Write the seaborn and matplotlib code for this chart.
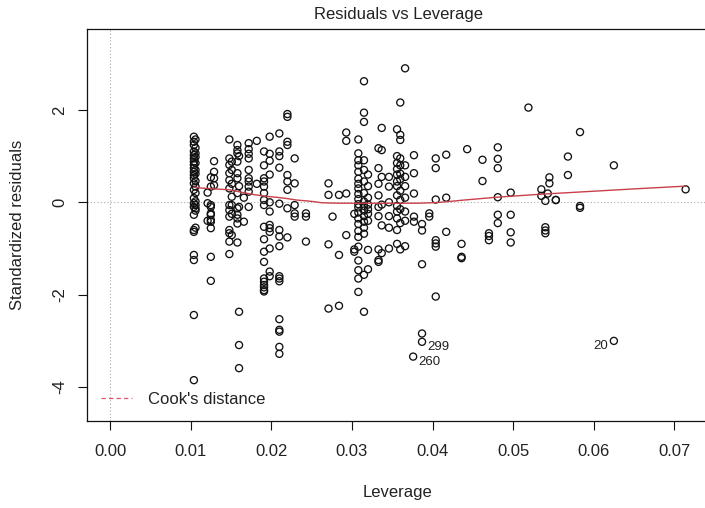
import matplotlib
matplotlib.use("Agg")
import matplotlib.pyplot as plt
from matplotlib.lines import Line2D
import pandas as pd
import seaborn as sns

# Standardized residuals, grouped by the (shared) leverage of the observations
r_0104 = [1.42, 1.31, 1.24, 1.10, 1.02, 0.95, 0.88, 0.81, 0.74, 0.66, 0.59, 0.52,
          0.41, 0.27, 0.09, -0.02, -0.10, -0.27, -0.60, -0.64, -1.14, -1.25, -2.44, -3.85]
r_0106 = [1.36, 1.18, 1.06, 0.98, 0.85, 0.70, 0.62, 0.46, 0.34, 0.20, 0.02, -0.06,
          -0.13, -0.18, -0.55]
r_0121 = [0.21, -0.02, -0.40]
r_0125 = [0.54, 0.34, -0.06, -0.10, -0.24, -0.27, -0.38, -0.42, -0.56, -1.18, -1.70]
r_0129 = [0.89, 0.66, 0.52, 0.37]
r_0148 = [1.36, 0.95, 0.81, 0.63, 0.48, 0.30, -0.06, -0.17, -0.31, -0.60, -0.67, -0.85, -1.12]
r_0151 = [0.88, 0.70, 0.40, 0.12, -0.06, -0.25, -0.71]
r_0158 = [1.24, 1.13, 1.06, 0.88, 0.63, 0.52, 0.20, -0.13, -0.27, -0.35, -0.46, -0.87]
r_0160 = [1.00, 0.35, -0.10, -2.37, -3.09, -3.59]
r_0166 = [0.10, -0.42]
r_0172 = [1.28, 1.15, 1.05, 0.95, 0.70, 0.52, 0.45, 0.34, 0.23, -0.10]
r_0182 = [1.33, 0.40]
r_0191 = [1.10, 0.80, 0.52, 0.45, 0.34, 0.20, 0.05, -0.06, -0.53, -0.80, -1.07, -1.29,
          -1.65, -1.72, -1.79, -1.84, -1.90, -1.93]
r_0198 = [1.42, 1.05, 0.90, 0.60, 0.00, -0.20, -0.49, -0.56, -0.64, -1.00, -1.50, -1.60]
r_0210 = [1.49, 1.10, 1.00, 0.75, -0.03, -0.60, -0.74, -0.95, -1.60, -1.65, -1.71,
          -2.53, -2.76, -2.80, -3.13, -3.28]
r_0220 = [1.91, 1.85, 1.31, 1.24, 0.59, 0.45, 0.27, -0.13, -0.76]
r_0229 = [0.95, 0.41, -0.06, -0.24, -0.31]
r_0243 = [-0.24, -0.31, -0.85]
r_0271 = [0.41, 0.16, -0.91, -2.30]
r_0276 = [-0.31]
r_0284 = [0.16, -1.14, -2.24]
r_0293 = [1.51, 1.33, 0.19, -0.71]
r_0303 = [-0.25, -1.02, -1.07]
r_0308 = [1.36, 1.06, 0.91, 0.80, 0.66, 0.51, 0.40, 0.30, 0.18, 0.07, -0.04, -0.11,
          -0.22, -0.35, -0.47, -0.62, -0.75, -0.96, -1.26, -1.47, -1.65, -1.94]
r_0315 = [2.62, 1.94, 1.74, 0.91, 0.70, 0.45, 0.20, 0.02, -0.08, -0.18, -0.30, -0.42,
          -0.55, -0.68, -1.57, -2.37]
r_0320 = [0.60, 0.35, 0.10, -0.05, -0.15, -0.25, -0.40, -1.03, -1.45]
r_0333 = [1.17, 0.74, 0.40, 0.15, -0.10, -0.30, -1.02, -1.25, -1.29]
r_0337 = [1.61, 1.13, 0.55, -0.05, -0.50, -1.10]
r_0346 = [0.55, 0.34, 0.00, -0.30, -0.55, -1.00]
r_0356 = [1.58, 1.00, 0.85, 0.72, 0.60, 0.45, 0.35, 0.15, -0.08, -0.20, -0.35, -0.60, -0.90]
r_0360 = [2.16, 1.46, 1.35, 0.95, 0.80, 0.62, 0.50, 0.25, 0.05, -0.15, -0.45, -1.02]
r_0366 = [2.90, 0.80, 0.55, 0.35, 0.10, -0.20, -0.40, -0.95]
r_0377 = [1.02, 0.63, 0.19, -0.31, -0.42]
r_0387 = [-0.47, -0.61, -1.34, -2.84]
r_0396 = [-0.24, -0.31]
r_0404 = [0.95, 0.74, 0.06, -0.82, -0.89, -0.96, -2.04]
r_0417 = [1.03, 0.10, -0.64]
r_0436 = [-0.90, -1.18, -1.21]
r_0443 = [1.15]
r_0462 = [0.92, 0.46]
r_0470 = [-0.67, -0.73, -0.82]
r_0481 = [1.19, 0.94, 0.74, 0.11, -0.27, -0.45]
r_0497 = [0.21, -0.27, -0.65, -0.87]
r_0519 = [2.05]
r_0535 = [0.28, 0.14]
r_0540 = [0.03, -0.54, -0.61, -0.67]
r_0543 = [0.19]
r_0545 = [0.54, 0.41]
r_0553 = [0.05, 0.05]
r_0568 = [0.99, 0.59]
r_0583 = [1.52, -0.08, -0.12]
r_0625 = [0.80]
r_0714 = [0.28]

# Observations flagged with their row index
flag_ids = ["299", "260", "20"]
flag_lev = [0.0387, 0.0376, 0.0625]
flag_res = [-3.02, -3.34, -3.00]
flag_side = ["right", "right", "left"]

# Lowess smoother of residuals against leverage
smooth_lev = [0.0104, 0.0112, 0.0130, 0.0148, 0.0165, 0.0177, 0.0193, 0.0206, 0.0220,
              0.0231, 0.0250, 0.0263, 0.0284, 0.0310, 0.0330, 0.0360, 0.0380, 0.0400,
              0.0410, 0.0440, 0.0480, 0.0530, 0.0560, 0.0600, 0.0650, 0.0714]
smooth_res = [0.33, 0.31, 0.29, 0.27, 0.21, 0.17, 0.13, 0.11, 0.08, 0.05, 0.02, -0.01,
              -0.02, -0.02, -0.02, -0.02, -0.02, -0.01, 0.00, 0.05, 0.11, 0.17, 0.20,
              0.24, 0.29, 0.35]

x_ticks = [0.00, 0.01, 0.02, 0.03, 0.04, 0.05, 0.06, 0.07]
y_ticks = [-4, -2, 0, 2]

groups = [
    (0.0104, r_0104), (0.0106, r_0106), (0.0121, r_0121), (0.0125, r_0125),
    (0.0129, r_0129), (0.0148, r_0148), (0.0151, r_0151), (0.0158, r_0158),
    (0.0160, r_0160), (0.0166, r_0166), (0.0172, r_0172), (0.0182, r_0182),
    (0.0191, r_0191), (0.0198, r_0198), (0.0210, r_0210), (0.0220, r_0220),
    (0.0229, r_0229), (0.0243, r_0243), (0.0271, r_0271), (0.0276, r_0276),
    (0.0284, r_0284), (0.0293, r_0293), (0.0303, r_0303), (0.0308, r_0308),
    (0.0315, r_0315), (0.0320, r_0320), (0.0333, r_0333), (0.0337, r_0337),
    (0.0346, r_0346), (0.0356, r_0356), (0.0360, r_0360), (0.0366, r_0366),
    (0.0377, r_0377), (0.0387, r_0387), (0.0396, r_0396), (0.0404, r_0404),
    (0.0417, r_0417), (0.0436, r_0436), (0.0443, r_0443), (0.0462, r_0462),
    (0.0470, r_0470), (0.0481, r_0481), (0.0497, r_0497), (0.0519, r_0519),
    (0.0535, r_0535), (0.0540, r_0540), (0.0543, r_0543), (0.0545, r_0545),
    (0.0553, r_0553), (0.0568, r_0568), (0.0583, r_0583), (0.0625, r_0625),
    (0.0714, r_0714),
]
rows = [(lev, r) for lev, vals in groups for r in vals]
rows += list(zip(flag_lev, flag_res))
df = pd.DataFrame(rows, columns=["leverage", "std_resid"])
smooth = pd.DataFrame({"leverage": smooth_lev, "std_resid": smooth_res})

sns.set_style("ticks")
plt.rcParams["font.family"] = ["Liberation Sans", "DejaVu Sans"]
plt.rcParams["axes.unicode_minus"] = False

W, H = 705, 508
fig = plt.figure(figsize=(W / 100, H / 100), dpi=100)
ax = fig.add_axes([87 / W, 1 - 421 / H, 622 / W, 392 / H])

# reference lines at zero
ax.axhline(0, color="#aaaaaa", lw=0.8, ls=(0, (1, 2)), zorder=0)
ax.axvline(0, color="#aaaaaa", lw=0.8, ls=(0, (1, 2)), zorder=0)

sns.scatterplot(data=df, x="leverage", y="std_resid", ax=ax, marker="o",
                facecolor="none", edgecolor="#111111", linewidth=0.95, s=26,
                legend=False, zorder=3)
sns.lineplot(data=smooth, x="leverage", y="std_resid", ax=ax, color="#c8404a",
             lw=1.0, sort=False, estimator=None, zorder=4)

for lab, x, y, side in zip(flag_ids, flag_lev, flag_res, flag_side):
    dx = 4 if side == "right" else -4
    ax.annotate(lab, (x, y), xytext=(dx, -4), textcoords="offset points",
                ha="left" if side == "right" else "right", va="center",
                fontsize=9.5, color="#222222")

ax.set_xlim(-0.00286, 0.0743)
ax.set_ylim(-4.734, 3.751)
ax.set_xticks(x_ticks)
ax.set_xticklabels([f"{t:.2f}" for t in x_ticks])
ax.set_yticks(y_ticks)
ax.set_yticklabels([str(t) for t in y_ticks], rotation=90, va="center")
ax.tick_params(axis="both", direction="out", length=6.8, width=0.8,
               colors="#111111", labelsize=12, labelcolor="#222222")
ax.tick_params(axis="x", pad=9.6)
ax.tick_params(axis="y", pad=7.2)
for sp in ax.spines.values():
    sp.set_linewidth(0.9)
    sp.set_color("#111111")

ax.set_xlabel("Leverage", fontsize=12, color="#222222")
ax.set_ylabel("Standardized residuals", fontsize=12, color="#222222")
ax.xaxis.set_label_coords(0.5, -64 / 392)
ax.yaxis.set_label_coords(-62 / 622, 0.5)
ax.set_title("Residuals vs Leverage", fontsize=12, color="#222222", pad=7)

cook = Line2D([], [], color="#df536b", lw=0.9, ls=(0, (3.5, 2.5)))
ax.legend(handles=[cook], labels=["Cook's distance"], loc="lower left",
          frameon=False, fontsize=12, handlelength=1.85, handletextpad=0.95,
          borderaxespad=0.5, borderpad=0.35, labelcolor="#222222")

fig.savefig("out.png", dpi=100)
